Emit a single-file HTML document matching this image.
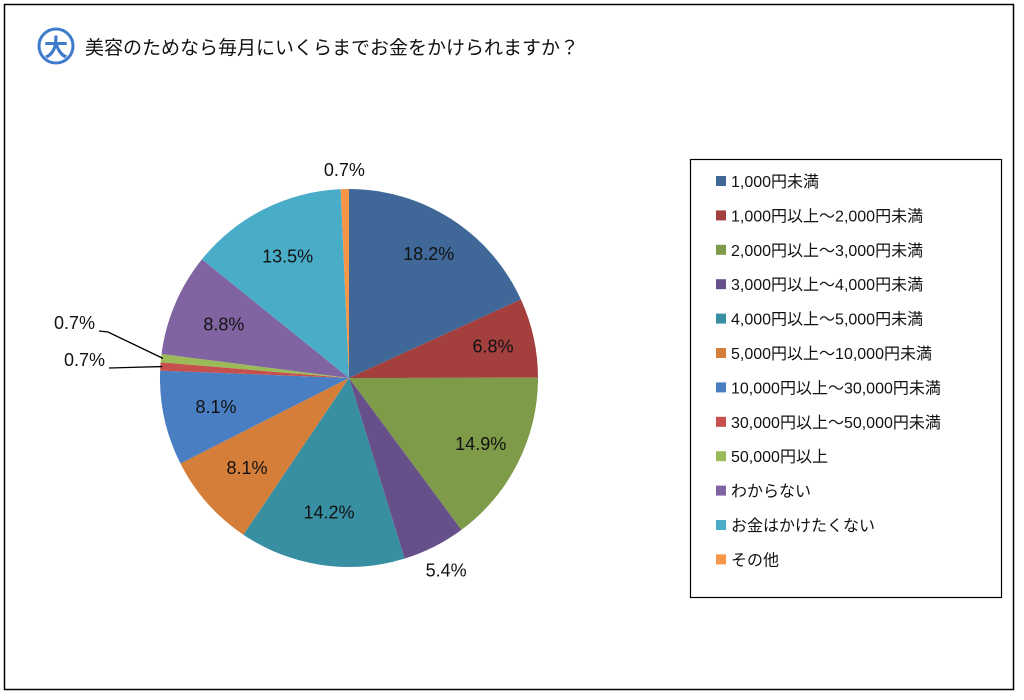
<!DOCTYPE html>
<html><head><meta charset="utf-8"><style>
body{margin:0;background:#fff;width:1024px;height:700px;overflow:hidden;font-family:"Liberation Sans","Noto Sans CJK JP",sans-serif}
</style></head><body>
<svg width="1024" height="700" style="position:absolute;left:0;top:0" font-family="Liberation Sans, Noto Sans CJK JP, sans-serif">
<rect x="4.5" y="4.5" width="1009" height="685" fill="#fff" stroke="#000" stroke-width="1.5"/>
<g>
<circle cx="56" cy="46" r="17" fill="#fff" stroke="#3F7BCB" stroke-width="3"/>
<text x="56" y="56" text-anchor="middle" font-size="24" font-weight="bold" fill="#3F7BCB">大</text>
</g>
<text x="85" y="54" font-size="19" fill="#111">美容のためなら毎月にいくらまでお金をかけられますか？</text>
<g id="pie"></g>
<g id="labels"></g>
<rect x="690.5" y="159.5" width="311" height="438" fill="#fff" stroke="#000" stroke-width="1.2"/>
<g id="legend"></g>
</svg>
<script>
const categories=["1,000円未満","1,000円以上～2,000円未満","2,000円以上～3,000円未満","3,000円以上～4,000円未満","4,000円以上～5,000円未満","5,000円以上～10,000円未満","10,000円以上～30,000円未満","30,000円以上～50,000円未満","50,000円以上","わからない","お金はかけたくない","その他"];
const values=[18.2,6.8,14.9,5.4,14.2,8.1,8.1,0.7,0.7,8.8,13.5,0.7];
const colors=["#3F6899","#A3403E","#7E9B4A","#67508A","#378FA1","#D47E3A","#4A7EC2","#C6504D","#9BBB59","#8064A2","#4AADC8","#F79646"];
const lblR=[0.78,0.78,0.78,1.14,0.72,0.72,0.72,null,null,0.72,0.72,1.1];
const NS="http://www.w3.org/2000/svg";
const cx=349,cy=378,R=189;
const total=values.reduce((a,b)=>a+b,0);
const pie=document.getElementById('pie'),labels=document.getElementById('labels'),legend=document.getElementById('legend');
function pt(frac,r){const a=frac*2*Math.PI;return [cx+r*Math.sin(a),cy-r*Math.cos(a)];}
let cum=0;
values.forEach((v,i)=>{
  const f0=cum/total,f1=(cum+v)/total;cum+=v;
  const p0=pt(f0,R),p1=pt(f1,R);
  const path=document.createElementNS(NS,'path');
  path.setAttribute('d',`M${cx},${cy}L${p0[0]},${p0[1]}A${R},${R} 0 ${f1-f0>0.5?1:0} 1 ${p1[0]},${p1[1]}Z`);
  path.setAttribute('fill',colors[i]);
  
  
  pie.appendChild(path);
  const t=document.createElementNS(NS,'text');
  t.setAttribute('font-size','18');t.setAttribute('fill','#111');
  
  
  t.textContent=v.toFixed(1)+'%';
  const fm=(f0+f1)/2;
  if(lblR[i]!==null){
    const p=pt(fm,R*lblR[i]);
    t.setAttribute('x',p[0]);t.setAttribute('y',p[1]+6);t.setAttribute('text-anchor','middle');
  } else {
    const e=pt(fm,R*0.99);
    const up=(i===8);
    const lx=up?99:109,ly=up?331:368;
    const line=document.createElementNS(NS,'polyline');
    line.setAttribute('points',up?`${lx},${ly} ${lx+9},${ly+1} ${e[0]},${e[1]}`:`${lx},${ly} ${e[0]},${e[1]}`);
    line.setAttribute('fill','none');line.setAttribute('stroke','#000');line.setAttribute('stroke-width','1.3');
    
    
    labels.appendChild(line);
    t.setAttribute('x',lx-4);t.setAttribute('y',ly-2);t.setAttribute('text-anchor','end');
  }
  labels.appendChild(t);
  const y=181+i*34.4;
  const sq=document.createElementNS(NS,'rect');
  sq.setAttribute('x',716);sq.setAttribute('y',y-5);sq.setAttribute('width',10);sq.setAttribute('height',10);sq.setAttribute('fill',colors[i]);
  
  
  legend.appendChild(sq);
  const lt=document.createElementNS(NS,'text');
  lt.setAttribute('x',731);lt.setAttribute('y',y+6);lt.setAttribute('font-size','16');lt.setAttribute('fill','#111');
  
  
  lt.textContent=categories[i];
  legend.appendChild(lt);
});
</script>
</body></html>
